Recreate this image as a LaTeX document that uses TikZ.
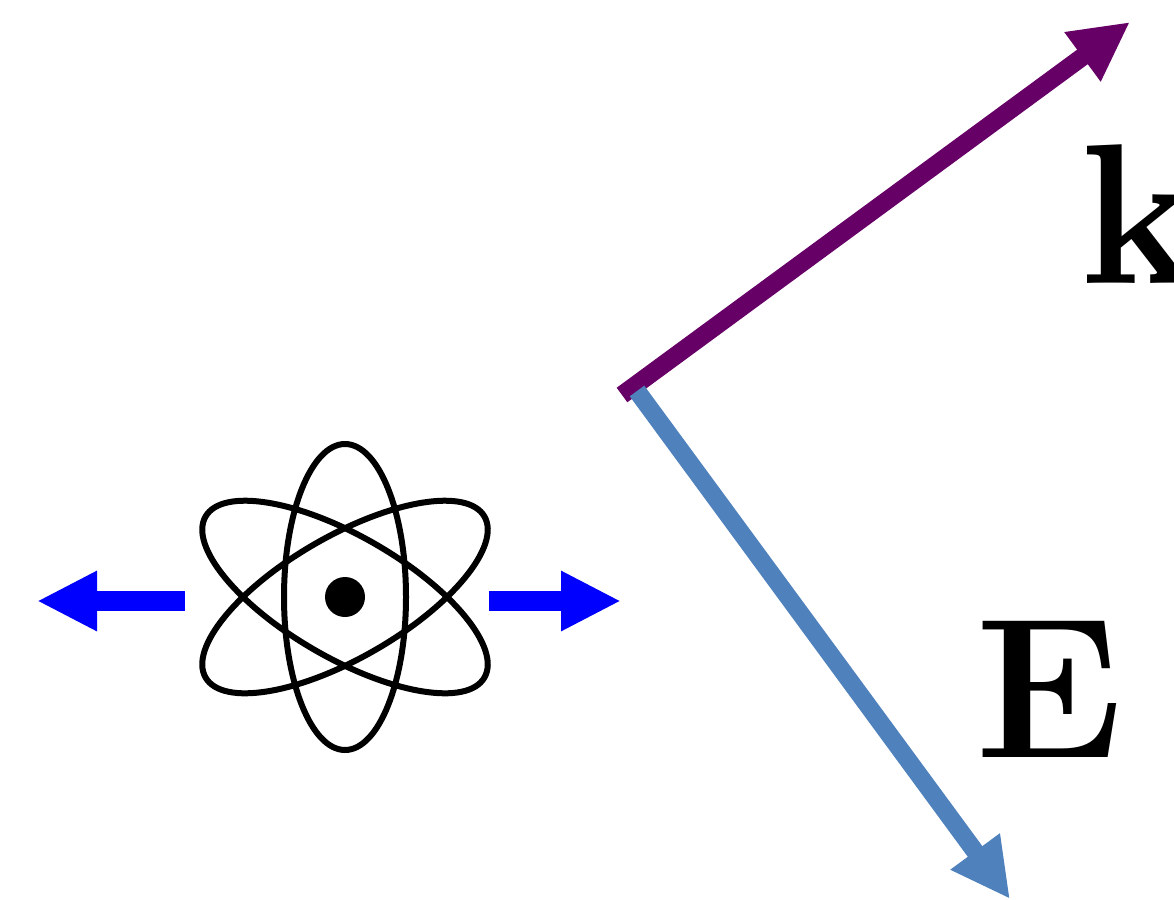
\documentclass[tikz,border=0pt]{standalone}
\usepackage{xcolor}
\usepackage{amsmath,amssymb}
\usepackage{tikz}
\usetikzlibrary{arrows.meta,positioning}
\definecolor{plum}{HTML}{660066}
\definecolor{steel}{HTML}{4F81BD}
\definecolor{pureblue}{HTML}{0000FF}
\tikzset{
  orbit/.style={draw=black,line width=6pt},
  kick/.style={draw=pureblue,line width=20pt,-{Triangle[length=60pt,width=56pt,fill=pureblue]}},
  wave/.style={line width=18pt,line cap=butt},
  biglabel/.style={inner sep=0pt,font=\fontsize{200}{200}\selectfont\bfseries}
}
\begin{document}
\begin{tikzpicture}[x=1pt,y=-1pt]
\useasboundingbox (0,0) rectangle (1174,899);
\coordinate (kstart) at (622,395);
\coordinate (ktip) at (1130,22);
\coordinate (estart) at (637,391);
\coordinate (etip) at (1010,899);
\coordinate (atom) at (345,597);
\coordinate (lefttail) at (185,601);
\coordinate (lefttip) at (37,601);
\coordinate (righttail) at (489,601);
\coordinate (righttip) at (621,601);
% atom
\draw[orbit] (atom) ellipse[x radius=61pt,y radius=153pt];
\draw[orbit,rotate around={60:(atom)}] (atom) ellipse[x radius=61pt,y radius=161pt];
\draw[orbit,rotate around={-60:(atom)}] (atom) ellipse[x radius=61pt,y radius=161pt];
\fill[black] (atom) circle[radius=20pt];
\draw[kick] (lefttail) -- (lefttip);
\draw[kick] (righttail) -- (righttip);
% field and wave vector
\draw[wave,draw=plum,-{Triangle[length=59pt,width=57pt,fill=plum]}] (kstart) -- (ktip);
\draw[wave,draw=steel,-{Triangle[length=59pt,width=57pt,fill=steel]}] (estart) -- (etip);
\node[biglabel,anchor=base west] (klabel) at (1080,283) {k};
\node[biglabel,anchor=base west] (elabel) at (975,757) {E};
\end{tikzpicture}
\end{document}
